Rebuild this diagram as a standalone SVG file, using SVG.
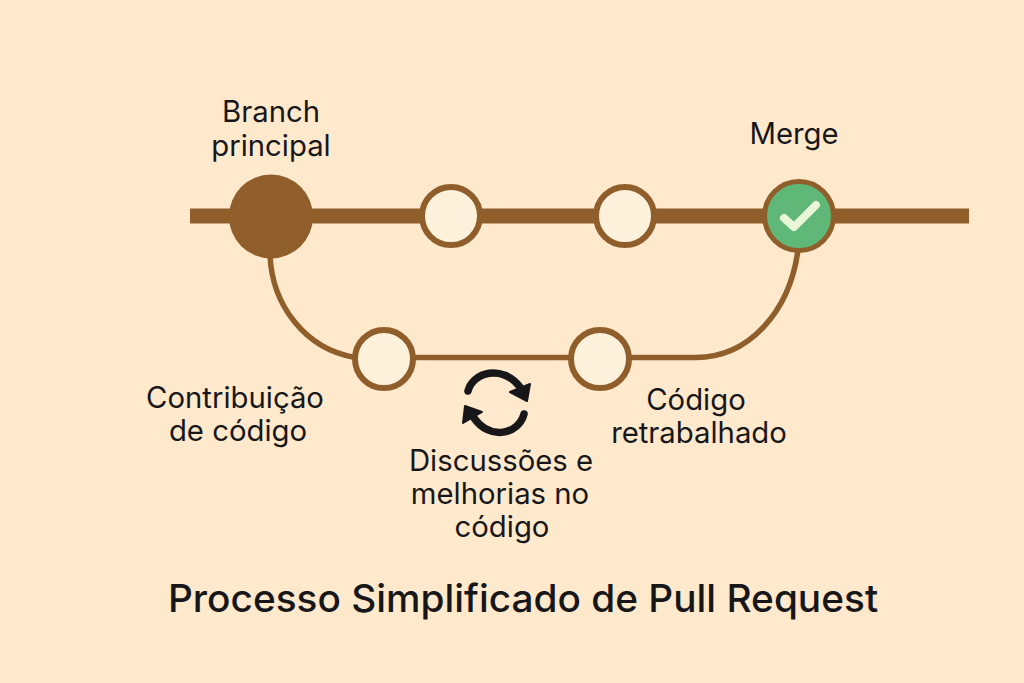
<svg xmlns="http://www.w3.org/2000/svg" width="1024" height="683" viewBox="0 0 1024 683">
<style>
text{font-family:"Inter","Noto Sans","Liberation Sans",sans-serif;fill:#17171a;text-anchor:middle;font-size:29.300px}
.title{font-size:38.800px;font-weight:500}
.main{fill:none;stroke:#8f5e2a;stroke-width:15}
.branch{fill:none;stroke:#8f5e2a;stroke-width:5.500}
.n{fill:#fdf1dc;stroke:#8f5e2a;stroke-width:6}
</style>
<rect width="1024" height="683" fill="#fee9cd"/>
<g id="connectors">
<path class="main" d="M190 216H969"/>
<path class="branch" d="M270 255C272 305 305 349 355 357.500H415H695C750 358 790 310 798 250"/>
</g>
<g id="node-branch"><circle cx="271" cy="216.500" r="42" fill="#8f5e2a"/><text x="271" y="122">Branch</text><text x="271" y="156">principal</text></g>
<g id="node-commit1"><circle class="n" cx="451" cy="216" r="29"/></g>
<g id="node-commit2"><circle class="n" cx="625" cy="216" r="29"/></g>
<g id="node-merge"><circle cx="799" cy="216" r="34.500" fill="#5fb878" stroke="#8f5e2a" stroke-width="5"/><path d="M784 218L794 227L816 205" fill="none" stroke="#e9f6d8" stroke-width="8" stroke-linecap="round" stroke-linejoin="round"/><text x="794" y="144">Merge</text></g>
<g id="node-contrib"><circle class="n" cx="384" cy="359" r="29"/><text x="235" y="408">Contribuição</text><text x="238" y="441">de código</text></g>
<g id="node-rework"><circle class="n" cx="600" cy="359" r="29"/><text x="696" y="410">Código</text><text x="699" y="443">retrabalhado</text></g>
<g id="node-discuss">
<path d="M468 391C473 372 502 364 520 387" fill="none" stroke="#17171a" stroke-width="7.500" stroke-linecap="round"/>
<path d="M530 384L527 401L510 392Z" fill="#17171a" stroke="#17171a" stroke-width="2" stroke-linejoin="round"/>
<path d="M524 414C519 434 490 441 474 418" fill="none" stroke="#17171a" stroke-width="7.500" stroke-linecap="round"/>
<path d="M465 406L463 423L482 412Z" fill="#17171a" stroke="#17171a" stroke-width="2" stroke-linejoin="round"/>
<text x="501" y="471">Discussões e</text><text x="500" y="504">melhorias no</text><text x="502" y="537">código</text>
</g>
<text class="title" x="523" y="612">Processo Simplificado de Pull Request</text>
</svg>
